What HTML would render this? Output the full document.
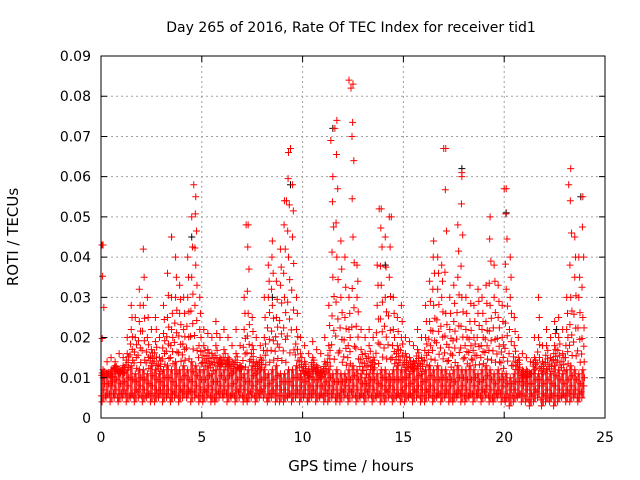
<!DOCTYPE html>
<html><head><meta charset="utf-8"><style>
body{margin:0;background:#fff}
svg{display:block;font-family:"DejaVu Sans","Liberation Sans",sans-serif}
</style></head><body>
<svg id="chart" width="640" height="480" viewBox="0 0 640 480">
<rect width="640" height="480" fill="#fff"/>
<text x="351" y="32" font-size="14" text-anchor="middle">Day 265 of 2016, Rate Of TEC Index for receiver tid1</text>
<g id="grid"></g><g id="marks"></g><g id="axes"></g>
<text x="351" y="471" font-size="15" text-anchor="middle">GPS time / hours</text>
<text transform="translate(18,237) rotate(-90)" font-size="15" text-anchor="middle">ROTI / TECUs</text>
</svg>
<script>
const xTicks=[0,5,10,15,20,25];
const yTicks=[0,0.01,0.02,0.03,0.04,0.05,0.06,0.07,0.08,0.09];
const yTickLabels=["0","0.01","0.02","0.03","0.04","0.05","0.06","0.07","0.08","0.09"];
const step=0.2;
const lowVals=[4,5,4,5,4,5,4,5,4,5,4,5,4,4,5,4,5,4,5,4,5,5,4,5,4,4,5,4,4,5,5,4,5,4,5,4,4,5,4,5,5,4,5,4,4,4,5,4,5,4,5,4,5,4,5,4,4,5,4,4,5,4,5,4,5,4,5,4,5,4,4,5,4,5,4,4,5,4,5,4,4,5,4,5,4,5,4,4,5,4,4,5,4,5,4,5,4,4,5,4,4,3,4,5,4,4,3,4,5,3,4,4,3,4,5,4,4,5,4,5];
const base1=[7,6,8,7,6,7,8,6,7,8,7,6,8,7,7,8,7,6,8,7,8,7,9,8,7,7,8,7,6,8,7,8,6,7,8,7,6,8,7,7,8,6,7,8,7,7,6,8,7,8,7,6,7,8,6,7,8,7,6,7,8,7,8,7,6,7,8,7,6,8,7,8,7,6,7,8,6,7,8,7,7,8,7,6,8,7,8,6,7,8,7,6,8,7,7,8,7,6,7,8,6,7,7,6,8,7,6,7,8,6,7,6,8,7,6,7,8,7,6,8];
const base2=[10,11,10,12,11,11,12,13,11,12,12,11,13,12,11,12,13,12,14,12,13,12,14,13,12,12,13,11,12,13,12,13,11,12,12,11,12,13,11,12,12,11,12,13,11,11,12,12,13,11,11,10,12,11,10,11,12,11,12,11,11,12,13,12,11,10,11,12,11,12,12,11,12,13,12,12,11,12,13,11,12,13,12,13,12,12,11,12,13,12,12,13,12,11,12,13,12,11,12,11,11,10,11,12,10,10,11,12,11,11,12,11,13,12,11,12,13,12,11,12];
const midVals=[12,11,12,13,12,13,16,22,20,24,28,20,17,19,15,21,25,22,30,26,22,30,35,38,22,18,17,16,18,15,17,15,14,16,13,22,26,18,14,15,20,30,28,25,33,30,40,45,22,16,14,12,15,13,12,14,18,35,40,30,25,22,45,30,17,16,18,15,28,33,30,35,22,18,20,16,15,14,17,15,20,24,28,32,30,26,22,24,35,30,22,24,20,26,22,24,28,30,25,20,32,30,18,15,12,12,11,15,20,14,18,15,18,20,16,22,30,35,30,25];
const topVals=[43,14,15,14,16,15,20,28,25,32,42,30,22,25,20,28,36,30,40,33,30,40,50,55,30,22,21,20,24,20,22,20,18,22,18,30,48,25,20,18,30,38,44,34,42,54,66,58,30,20,18,16,19,17,16,20,28,60,74,44,40,30,83,38,22,20,22,20,38,52,45,50,30,25,28,20,19,18,22,20,28,34,44,40,38,67,30,33,48,61,30,33,28,32,30,33,50,38,33,28,57,40,25,20,16,15,14,20,30,18,22,20,24,25,22,30,62,45,40,55];
const spikeT=[0.05,3.5,4.6,7.2,9.2,9.4,11.4,11.6,12.3,12.4,12.45,13.8,14.4,17.0,17.9,20.0,23.2];
const spikeV=[0.043,0.045,0.058,0.048,0.054,0.067,0.069,0.072,0.084,0.082,0.070,0.052,0.050,0.067,0.060,0.057,0.058];
const blackT=[3.5,4.5,9.4,11.5,17.9,20.1,23.8,8.5,14.1,22.6];
const blackV=[0.045,0.045,0.058,0.072,0.062,0.051,0.055,0.030,0.038,0.022];

const X0=101,X1=605,Y0=418,Y1=56;
const sx=v=>X0+(v/25)*(X1-X0);
const sy=v=>Y0-(v/0.09)*(Y0-Y1);
const NS="http://www.w3.org/2000/svg";
const grid=document.getElementById('grid'),marks=document.getElementById('marks'),axes=document.getElementById('axes');
function mk(tag,attrs,parent){const e=document.createElementNS(NS,tag);for(const k in attrs)e.setAttribute(k,attrs[k]);parent.appendChild(e);return e;}

xTicks.forEach((t,i)=>{
  const x=sx(t);
  if(i>0&&i<xTicks.length-1){const g=mk('line',{x1:x,x2:x,y1:Y0,y2:Y1,stroke:'#a0a0a0','stroke-dasharray':'2,3'},grid);
  
  }
  const tk=mk('path',{d:`M${x},${Y0}v-6M${x},${Y1}v6`,stroke:'#000'},axes);
  
  
  const lb=mk('text',{x:x,y:Y0+24,'font-size':14,'text-anchor':'middle'},axes);lb.textContent=t;
  
  
});
yTicks.forEach((t,i)=>{
  const y=sy(t);
  if(i>0&&i<yTicks.length-1){const g=mk('line',{x1:X0,x2:X1,y1:y,y2:y,stroke:'#a0a0a0','stroke-dasharray':'2,3'},grid);
  
  }
  const tk=mk('path',{d:`M${X0},${y}h6M${X1},${y}h-6`,stroke:'#000'},axes);
  
  
  const lb=mk('text',{x:X0-10,y:y+5,'font-size':14,'text-anchor':'end'},axes);lb.textContent=yTickLabels[i];
  
  
});
const fr=mk('rect',{x:X0,y:Y1,width:X1-X0,height:Y0-Y1,fill:'none',stroke:'#000'},axes);



function plus(t,v,color,name){
  const x=sx(t),y=sy(v);
  const p=mk('path',{d:`M${x-3.5},${y}h7M${x},${y-3.5}v7`,stroke:color,'stroke-width':1},marks);
  
  
}
for(let i=0;i<blackT.length;i++)plus(blackT[i],blackV[i],'#000','black-point');
for(let i=0;i<midVals.length;i++){
  const t=i*step+0.1;
  const r=mk('line',{x1:sx(t),x2:sx(t),y1:sy(lowVals[i]/1000),y2:sy(base2[i]/1000),stroke:'#f00','stroke-width':3,'stroke-opacity':0.8},marks);
  
  
}
for(let i=0;i<midVals.length;i++){
  const t=i*step+0.1;
  const b2=base2[i]/1000,m=midVals[i]/1000,tp=topVals[i]/1000;
  plus(t-0.05,lowVals[i]/1000,'#f00','roti-point');
  plus(t+0.05,base1[i]/1000,'#f00','roti-point');
  plus(t-0.08,(lowVals[i]+base1[i])/2000,'#f00','roti-point');
  plus(t+0.08,(base1[i]+base2[i])/2000,'#f00','roti-point');
  plus(t,b2,'#f00','roti-point');
  plus(t+0.07,b2+(m-b2)*0.15,'#f00','roti-point');
  plus(t-0.06,b2+(m-b2)*0.3,'#f00','roti-point');
  plus(t+0.05,b2+(m-b2)*0.45,'#f00','roti-point');
  plus(t-0.04,b2+(m-b2)*0.6,'#f00','roti-point');
  plus(t+0.06,b2+(m-b2)*0.8,'#f00','roti-point');
  plus(t,m,'#f00','roti-point');
  if(tp-m>0.006){plus(t+0.04,m+(tp-m)*0.5,'#f00','roti-point');}
  if(tp-m>0.015){plus(t-0.04,m+(tp-m)*0.25,'#f00','roti-point');plus(t-0.02,m+(tp-m)*0.75,'#f00','roti-point');}
  plus(t,tp,'#f00','roti-point');
}
for(let i=0;i<spikeT.length;i++)plus(spikeT[i],spikeV[i],'#f00','roti-spike');
</script>
</body></html>
